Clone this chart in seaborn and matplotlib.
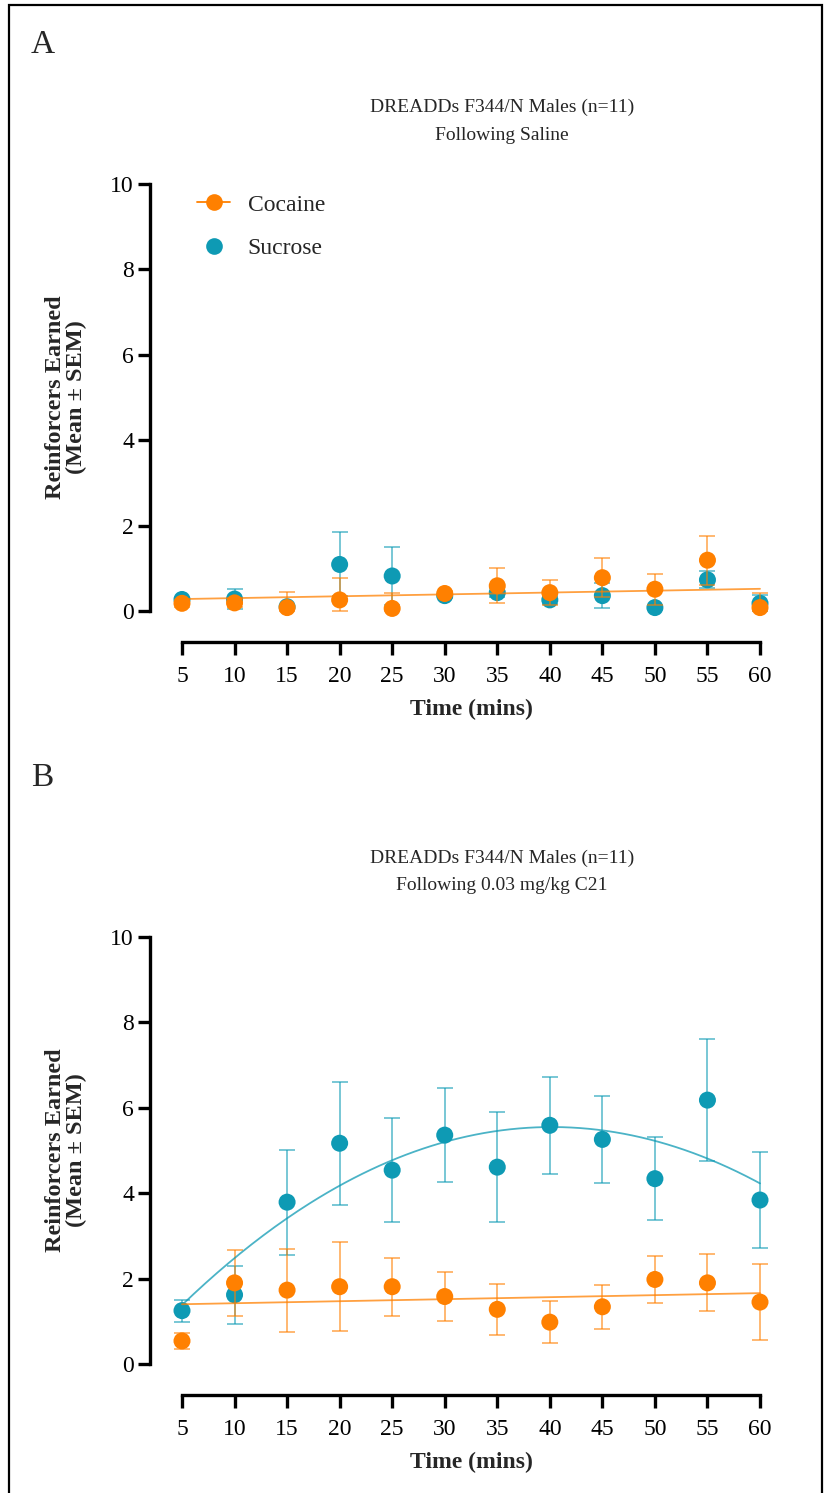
import numpy as np
import pandas as pd
import matplotlib
matplotlib.use("Agg")
import matplotlib.pyplot as plt
from matplotlib.lines import Line2D
from matplotlib.patches import Rectangle
import seaborn as sns

# ---------------- data ----------------
time_min = [5, 10, 15, 20, 25, 30, 35, 40, 45, 50, 55, 60]

a_cocaine_mean = [0.18, 0.19, 0.08, 0.26, 0.06, 0.41, 0.59, 0.43, 0.78, 0.51, 1.19, 0.08]
a_cocaine_sem = [0.08, 0.10, 0.37, 0.51, 0.35, 0.05, 0.41, 0.30, 0.45, 0.36, 0.57, 0.33]
a_sucrose_mean = [0.27, 0.28, 0.10, 1.09, 0.82, 0.36, 0.43, 0.26, 0.36, 0.08, 0.73, 0.18]
a_sucrose_sem = [0.05, 0.23, 0.05, 0.75, 0.69, 0.05, 0.10, 0.10, 0.29, 0.05, 0.20, 0.20]

b_cocaine_mean = [0.54, 1.90, 1.73, 1.81, 1.81, 1.58, 1.28, 0.98, 1.34, 1.98, 1.90, 1.45]
b_cocaine_sem = [0.19, 0.77, 0.97, 1.04, 0.68, 0.57, 0.60, 0.49, 0.52, 0.56, 0.67, 0.89]
b_sucrose_mean = [1.25, 1.62, 3.79, 5.17, 4.54, 5.36, 4.61, 5.59, 5.26, 4.34, 6.18, 3.84]
b_sucrose_sem = [0.26, 0.68, 1.23, 1.44, 1.21, 1.10, 1.28, 1.14, 1.02, 0.97, 1.43, 1.12]

# fitted curves (polynomial coefficients, highest power first)
fit_a_cocaine = [0.00436, 0.258]
fit_b_cocaine = [0.00473, 1.376]
fit_b_sucrose = [-0.003366, 0.2706, 0.111]

titles_a = ["DREADDs F344/N Males (n=11)", "Following Saline"]
titles_b = ["DREADDs F344/N Males (n=11)", "Following 0.03 mg/kg C21"]
series_names = ["Cocaine", "Sucrose"]
y_ticks = [0, 2, 4, 6, 8, 10]
x_ticks = time_min

ORANGE = "#FF8000"
TEAL = "#0E9AB4"

# ---------------- style ----------------
sns.set_theme(style="ticks")
plt.rcParams["font.family"] = ["Liberation Serif", "DejaVu Serif"]

W, H = 827, 1493
fig = plt.figure(figsize=(W / 100, H / 100), dpi=100)
fig.patch.set_facecolor("white")

def fx(px):
    return px / W

def fy(py):
    return 1 - py / H

# border
fig.patches.append(Rectangle((fx(9), -0.02), fx(822) - fx(9), fy(5) + 0.02,
                             transform=fig.transFigure, fill=False,
                             edgecolor="black", linewidth=1.6, zorder=0))

PPU = (611 - 184) / 10.0  # pixels per y unit


def make_panel(top_px, bottom_px, coc_m, coc_s, suc_m, suc_s, fits, titles,
               title_y, letter, letter_y, legend=False):
    left_px, right_px = 150, 780
    ax = fig.add_axes([fx(left_px), fy(bottom_px), fx(right_px) - fx(left_px),
                       (bottom_px - top_px) / H])
    ax.set_facecolor("white")
    t = np.array(time_min, dtype=float)

    # sucrose first (under), then cocaine
    for m, s, col, z in [(suc_m, suc_s, TEAL, 3), (coc_m, coc_s, ORANGE, 5)]:
        m = np.array(m)
        s = np.array(s)
        lower = np.minimum(s, m)
        ax.errorbar(t, m, yerr=[lower, s], fmt="none", ecolor=col, alpha=0.6,
                    elinewidth=1.3, capsize=6, capthick=1.3, zorder=z)
        df = pd.DataFrame({"Time": t, "Value": m})
        sns.scatterplot(data=df, x="Time", y="Value", ax=ax, color=col, s=150,
                        edgecolor="none", linewidth=0, zorder=z + 1, legend=False)

    xs = np.linspace(5, 60, 200)
    for coeffs, col in fits:
        fdf = pd.DataFrame({"Time": xs, "Fit": np.polyval(coeffs, xs)})
        sns.lineplot(data=fdf, x="Time", y="Fit", ax=ax, color=col, alpha=0.75,
                     linewidth=1.3, zorder=7, legend=False)

    x0 = 5 - (182 - left_px) / 10.51
    x1 = 60 + (right_px - 760) / 10.51
    ax.set_xlim(x0, x1)
    ax.set_ylim(-31 / PPU, 10 + 8.5 / PPU)

    sns.despine(ax=ax, top=True, right=True)
    ax.spines["left"].set_bounds(0, 10)
    ax.spines["bottom"].set_bounds(5, 60)
    for sp in ("left", "bottom"):
        ax.spines[sp].set_linewidth(2.4)
        ax.spines[sp].set_color("black")
    ax.set_yticks(y_ticks)
    ax.set_yticklabels([str(v) for v in y_ticks])
    ax.set_xticks(x_ticks)
    ax.set_xticklabels([str(v) for v in x_ticks])
    ax.tick_params(axis="y", length=8.5, width=2.4, pad=3, labelsize=17, colors="black")
    ax.tick_params(axis="x", length=9, width=2.4, pad=8, labelsize=17, colors="black")
    ax.set_xlabel("")
    ax.set_ylabel("")
    ax.grid(False)

    # x label
    fig.text(fx(471), fy(bottom_px + 67), "Time (mins)", ha="center", va="center",
             fontsize=17, fontweight="bold")
    # y label
    mid = (bottom_px - 0.525 * (bottom_px - top_px))
    fig.text(fx(66), fy(mid), "Reinforcers Earned\n(Mean \u00b1 SEM)", rotation=90,
             ha="center", va="center", fontsize=17.5, fontweight="bold",
             multialignment="center", linespacing=1.0)
    # titles
    fig.text(fx(502), fy(title_y), titles[0], ha="center", va="center", fontsize=14)
    fig.text(fx(502), fy(title_y + 28), titles[1], ha="center", va="center", fontsize=14)
    # panel letter
    fig.text(fx(31), fy(letter_y), letter, ha="left", va="center", fontsize=24)

    if legend:
        handles = [Line2D([0], [0], color=ORANGE, marker="o", markersize=12,
                          markeredgewidth=0, linewidth=1.3),
                   Line2D([0], [0], color=TEAL, marker="o", markersize=12,
                          markeredgewidth=0, linestyle="none")]
        ax.legend(handles, series_names, loc="upper left",
                  bbox_to_anchor=((197 - left_px) / (right_px - left_px),
                                  (bottom_px - 194) / (bottom_px - top_px)),
                  frameon=False, fontsize=17, handlelength=1.4,
                  handletextpad=0.75, labelspacing=0.95, borderpad=0,
                  borderaxespad=0)
    return ax


make_panel(175.5, 642, a_cocaine_mean, a_cocaine_sem, a_sucrose_mean, a_sucrose_sem,
           [(fit_a_cocaine, ORANGE)], titles_a, 107, "A", 45, legend=True)
make_panel(928.5, 1395, b_cocaine_mean, b_cocaine_sem, b_sucrose_mean, b_sucrose_sem,
           [(fit_b_sucrose, TEAL), (fit_b_cocaine, ORANGE)], titles_b, 858, "B", 778)

fig.savefig("out.png", dpi=100, facecolor="white")
